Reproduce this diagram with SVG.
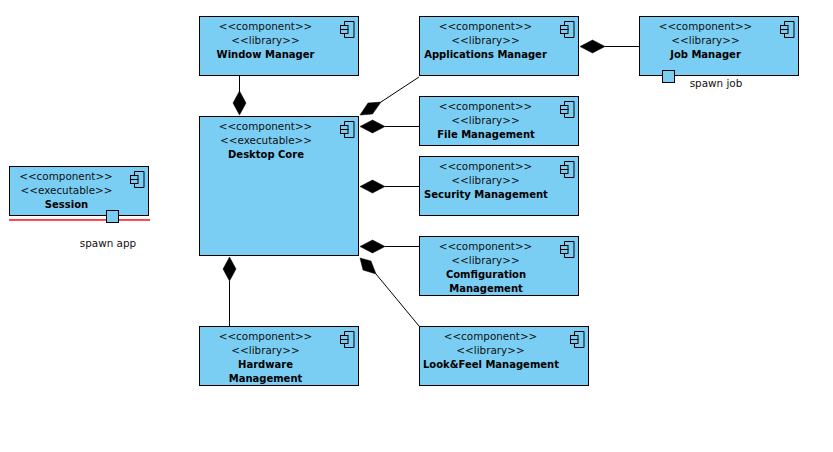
<svg xmlns="http://www.w3.org/2000/svg" width="833" height="452" viewBox="0 0 833 452">
<style>
.box{fill:#7acef4;stroke:#000;stroke-width:1}
.port{fill:#7acef4;stroke:#000;stroke-width:1}
.ic{fill:#7acef4;stroke:#000;stroke-width:1}
text{font-family:"DejaVu Sans",sans-serif;font-size:10.4px;fill:#111;text-anchor:middle}
.b{font-weight:bold;font-size:10px;fill:#000}
.c line{stroke:#000;stroke-width:1}
.c polygon{fill:#000;stroke:#000;stroke-width:.5}
</style>
<defs>
<g id="icon">
<path class="ic" d="M4.500 .5H14V16.500H4.500Z"/>
<rect class="ic" x=".5" y="4.500" width="7.500" height="4"/>
<rect class="ic" x=".5" y="8.500" width="7.500" height="4"/>
</g>
</defs>
<rect width="833" height="452" fill="#fff"/>
<g id="connectors" class="c">
<line x1="239.500" y1="76" x2="239.500" y2="92"/>
<polygon points="239.500,91 246,103 239.500,115 233,103"/>
<line x1="229.500" y1="326" x2="229.500" y2="281"/>
<polygon points="229.500,257 236,269 229.500,281 223,269"/>
<line x1="419" y1="77" x2="381" y2="102"/>
<polygon points="360,115 368,103 381,102 372.500,114"/>
<line x1="419" y1="126.500" x2="385" y2="126.500"/>
<polygon points="360,126.500 372.500,120 385,126.500 372.500,133"/>
<line x1="419" y1="186.500" x2="385" y2="186.500"/>
<polygon points="360,186.500 372.500,180 385,186.500 372.500,193"/>
<line x1="419" y1="246.500" x2="385" y2="246.500"/>
<polygon points="360,246.500 372.500,240 385,246.500 372.500,253"/>
<line x1="419" y1="326" x2="376" y2="274"/>
<polygon points="360,258 371,261 376,274 363,270"/>
<line x1="639" y1="46.500" x2="605" y2="46.500"/>
<polygon points="580,46.500 592.500,40 605,46.500 592.500,53"/>
</g>
<g id="session">
<line x1="9" y1="220" x2="150" y2="220" stroke="#f00" stroke-width="1.500"/>
<line x1="9" y1="220.500" x2="150" y2="220.500" stroke="#f66" stroke-width="1" opacity=".5"/>
<rect class="box" x="9.500" y="166.500" width="139" height="49"/>
<use href="#icon" x="130" y="171"/>
<text x="66" y="180">&lt;&lt;component&gt;&gt;</text>
<text x="66.500" y="194">&lt;&lt;executable&gt;&gt;</text>
<text x="66.500" y="208" class="b">Session</text>
<rect class="port" x="106.500" y="210.500" width="12" height="12"/>
<text x="108" y="247">spawn app</text>
</g>
<g id="window-manager">
<rect class="box" x="199.500" y="16.500" width="159" height="59"/>
<use href="#icon" x="340" y="21"/>
<text x="265.500" y="30">&lt;&lt;component&gt;&gt;</text>
<text x="265.500" y="44">&lt;&lt;library&gt;&gt;</text>
<text x="265.500" y="58" class="b">Window Manager</text>
</g>
<g id="desktop-core">
<rect class="box" x="199.500" y="116.500" width="159" height="139"/>
<use href="#icon" x="340" y="121"/>
<text x="265.500" y="130">&lt;&lt;component&gt;&gt;</text>
<text x="266" y="144">&lt;&lt;executable&gt;&gt;</text>
<text x="266" y="158" class="b">Desktop Core</text>
</g>
<g id="hardware-management">
<rect class="box" x="199.500" y="326.500" width="159" height="59"/>
<use href="#icon" x="340" y="331"/>
<text x="265.500" y="340">&lt;&lt;component&gt;&gt;</text>
<text x="265.500" y="354">&lt;&lt;library&gt;&gt;</text>
<text x="265.500" y="368" class="b">Hardware</text>
<text x="265.500" y="382" class="b">Management</text>
</g>
<g id="applications-manager">
<rect class="box" x="419.500" y="16.500" width="159" height="59"/>
<use href="#icon" x="560" y="21"/>
<text x="485.500" y="30">&lt;&lt;component&gt;&gt;</text>
<text x="485.500" y="44">&lt;&lt;library&gt;&gt;</text>
<text x="485.500" y="58" class="b">Applications Manager</text>
</g>
<g id="file-management">
<rect class="box" x="419.500" y="96.500" width="159" height="49"/>
<use href="#icon" x="560" y="101"/>
<text x="485.500" y="110">&lt;&lt;component&gt;&gt;</text>
<text x="485.500" y="124">&lt;&lt;library&gt;&gt;</text>
<text x="486" y="138" class="b">File Management</text>
</g>
<g id="security-management">
<rect class="box" x="419.500" y="156.500" width="159" height="59"/>
<use href="#icon" x="560" y="161"/>
<text x="485.500" y="170">&lt;&lt;component&gt;&gt;</text>
<text x="485.500" y="184">&lt;&lt;library&gt;&gt;</text>
<text x="486" y="198" class="b">Security Management</text>
</g>
<g id="configuration-management">
<rect class="box" x="419.500" y="236.500" width="159" height="59"/>
<use href="#icon" x="560" y="241"/>
<text x="485.500" y="250">&lt;&lt;component&gt;&gt;</text>
<text x="485.500" y="264">&lt;&lt;library&gt;&gt;</text>
<text x="486" y="278" class="b">Comfiguration</text>
<text x="486" y="292" class="b">Management</text>
</g>
<g id="look-feel-management">
<rect class="box" x="419.500" y="326.500" width="169" height="59"/>
<use href="#icon" x="570" y="331"/>
<text x="490.500" y="340">&lt;&lt;component&gt;&gt;</text>
<text x="490.500" y="354">&lt;&lt;library&gt;&gt;</text>
<text x="491" y="368" class="b">Look&amp;Feel Management</text>
</g>
<g id="job-manager">
<rect class="box" x="639.500" y="16.500" width="159" height="59"/>
<use href="#icon" x="780" y="21"/>
<text x="705.500" y="30">&lt;&lt;component&gt;&gt;</text>
<text x="705.500" y="44">&lt;&lt;library&gt;&gt;</text>
<text x="705.500" y="58" class="b">Job Manager</text>
<rect class="port" x="662.500" y="70.500" width="12" height="12"/>
<text x="716" y="87">spawn job</text>
</g>
</svg>
